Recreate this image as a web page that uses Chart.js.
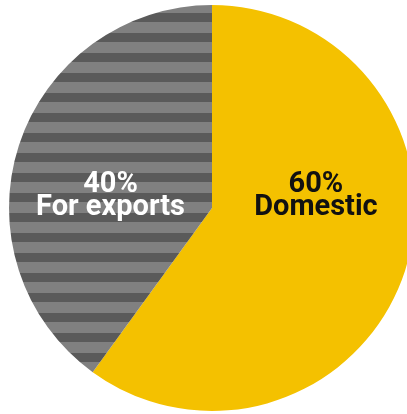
<!DOCTYPE html>
<html>
<head>
    <title>Domestic vs exports</title>
    <script src="https://cdn.jsdelivr.net/npm/chart.js"></script>
    <style>
        body {
            margin: 0;
            background: #fff;
            overflow: hidden;
            font-family: Roboto, sans-serif;
        }
        #wrap {
            position: absolute;
            left: 0;
            top: 0;
            width: 424px;
            height: 416px;
        }
    </style>
</head>
<body>
    <div id="wrap">
        <canvas id="chart" width="424" height="416"></canvas>
    </div>

    <script>
        const categories = ['Domestic', 'For exports'];
        const shares = [60, 40];

        // horizontal grey stripes for the exports slice
        function stripes() {
            const c = document.createElement('canvas');
            c.width = 4;
            c.height = 20;
            const g = c.getContext('2d');
            g.fillStyle = '#808080';
            g.fillRect(0, 0, 4, 20);
            g.fillStyle = '#5a5a5a';
            g.fillRect(0, 13, 4, 7);
            g.fillRect(0, 0, 4, 2);
            return g.createPattern(c, 'repeat');
        }

        // slice labels, placed relative to the pie centre in units of radius
        const labelSpots = [
            { dx: 0.512, color: '#111111' },
            { dx: -0.5, color: '#ffffff' }
        ];

        const sliceLabels = {
            id: 'sliceLabels',
            afterDatasetsDraw(chart) {
                const arcs = chart.getDatasetMeta(0).data;
                const ctx = chart.ctx;
                const cx = arcs[0].x, cy = arcs[0].y, r = arcs[0].outerRadius;
                ctx.save();
                ctx.font = 'bold 29px Roboto';
                ctx.textAlign = 'center';
                ctx.textBaseline = 'alphabetic';
                categories.forEach((name, i) => {
                    const s = labelSpots[i];
                    const x = cx + s.dx * r;
                    ctx.fillStyle = s.color;
                    ctx.fillText(shares[i] + '%', x, cy - 0.079 * r);
                    ctx.fillText(name, x, cy + 0.036 * r);
                });
                ctx.restore();
            }
        };

        new Chart(document.getElementById('chart'), {
            type: 'pie',
            data: {
                labels: categories,
                datasets: [{
                    data: shares,
                    backgroundColor: ['#f4c100', stripes()],
                    borderWidth: 0
                }]
            },
            options: {
                responsive: false,
                animation: false,
                layout: { padding: 5 },
                plugins: {
                    legend: { display: false },
                    tooltip: { enabled: false }
                }
            },
            plugins: [sliceLabels]
        });
    </script>
</body>
</html>
